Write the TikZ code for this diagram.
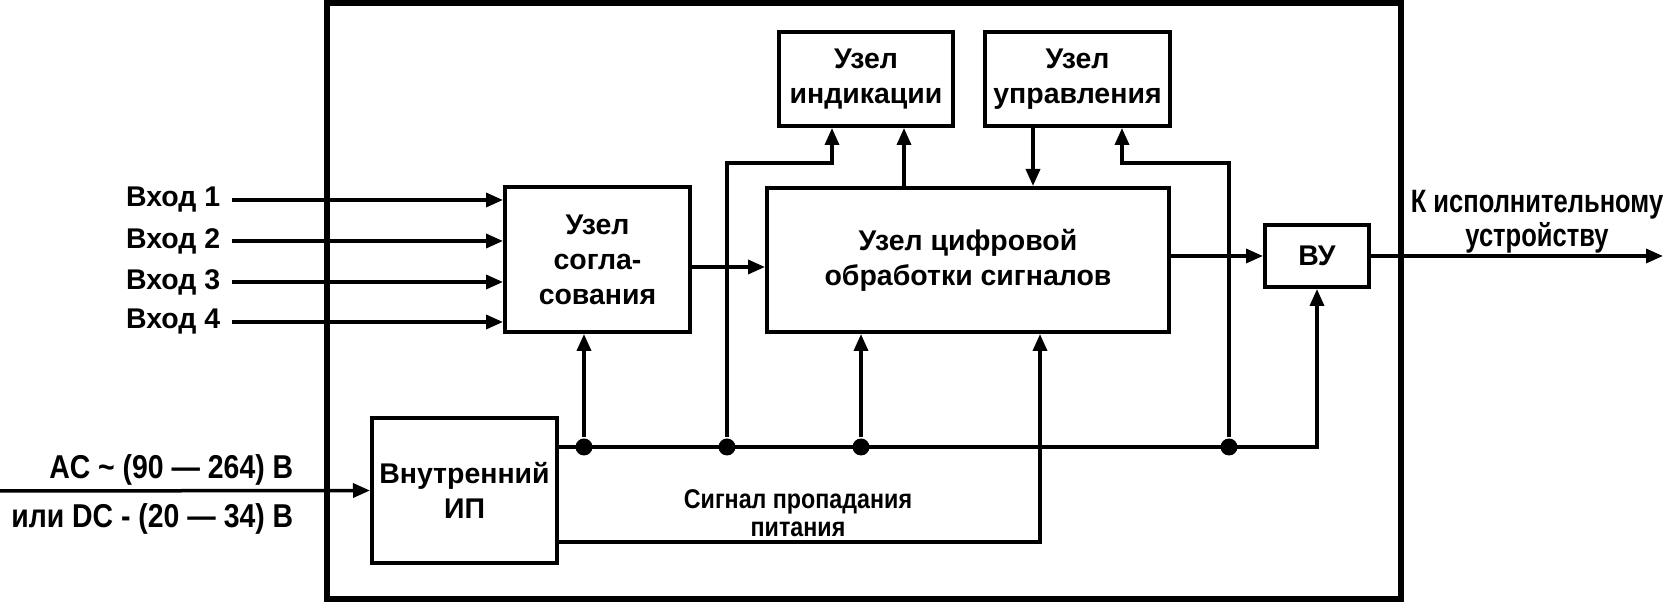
\documentclass[tikz,border=0pt]{standalone}
\usepackage{fontspec}
\setmainfont{Liberation Sans}
\newfontfamily\narrowfont{Liberation Sans}[FakeStretch=0.86]
\newfontfamily\slimfont{Liberation Sans}[FakeStretch=0.79]
\usetikzlibrary{arrows.meta,positioning}

\begin{document}
\begin{tikzpicture}[>={Triangle[length=0.17cm,width=0.14cm]},
                    font=\bfseries\fontsize{8.1}{10}\selectfont,
                    line width=0.035cm]
  \tikzstyle{blk}=[draw, line width=0.04cm, align=center, inner sep=0pt]
  \tikzstyle{lbl}=[inner sep=0pt, anchor=east]
  \tikzstyle{nlbl}=[inner sep=0pt, align=center,
                    font=\narrowfont\bfseries\fontsize{9.4}{10.2}\selectfont]
  \tikzstyle{dot}=[circle, fill, inner sep=0pt, minimum size=0.17cm]
  \useasboundingbox (0,0) rectangle (16.73,-6.04);

  % ================= корпус прибора =================
  \node[draw, line width=0.065cm, minimum width=10.74cm,
        minimum height=5.96cm] (dev) at (8.64,-3.01) {};

  % ================= блоки =================
  \node[blk, minimum width=1.85cm, minimum height=1.45cm] (sogl) at (5.975,-2.595)
       {Узел\\согла-\\сования};
  \node[blk, minimum width=4.02cm, minimum height=1.44cm] (dsp) at (9.68,-2.60)
       {Узел цифровой\\обработки сигналов};
  \node[blk, minimum width=1.74cm, minimum height=0.94cm] (ind) at (8.66,-0.79)
       {Узел\\индикации};
  \node[blk, minimum width=1.85cm, minimum height=0.94cm] (upr) at (10.775,-0.79)
       {Узел\\управления};
  \node[blk, minimum width=1.04cm, minimum height=0.62cm] (vu) at (13.17,-2.56) {ВУ};
  \node[blk, minimum width=1.85cm, minimum height=1.45cm] (ip) at (4.645,-4.905)
       {Внутренний\\ИП};

  % ================= входы =================
  \foreach \i/\y in {1/2.00,2/2.41,3/2.82,4/3.22}{
    \node[lbl] (in\i) at (2.22,-\y) {Вход \i};
    \draw[->] ([xshift=0.10cm]in\i.east) -- (sogl.west |- in\i.east);
  }
  \coordinate (s1) at ([yshift=-0.075cm]sogl.east);
  \draw[->] (s1) -- (s1 -| dsp.west);
  \draw[->] (dsp.east |- vu.west) -- (vu.west);

  % ================= выход =================
  \coordinate (out) at (16.63,-2.58);
  \draw[->] (vu.east) -- (vu.east -| out);
  \node[nlbl, font=\slimfont\bfseries\fontsize{9.2}{8.3}\selectfont]
       (outlbl) at (15.37,-2.22) {К исполнительному\\устройству};

  % ================= связи с индикацией и управлением =================
  \coordinate (d1) at ([xshift=-0.64cm]dsp.north);
  \draw[->] (d1) -- (d1 |- ind.south);
  \coordinate (u1) at ([xshift=-0.445cm]upr.south);
  \draw[->] (u1) -- (u1 |- dsp.north);

  % ================= питание =================
  \coordinate (pin) at (0,-4.91);
  \draw[->] (pin) -- (ip.west);
  \node[nlbl, anchor=east] (ac) at (2.95,-4.70) {AC \textasciitilde{} (90 — 264) В};
  \node[nlbl, anchor=east] (dc) at (2.95,-5.19) {или DC - (20 — 34) В};

  \coordinate (bus) at ([yshift=0.435cm]ip.east);
  \foreach \n/\x in {j1/5.84,j2/7.27,j3/8.61,j4/12.29}
    \node[dot] (\n) at (\x,-4.47) {};
  \draw[->] (bus) -| (vu.south);
  \draw[->] (j1) -- (j1 |- sogl.south);
  \draw[->] (j3) -- (j3 |- dsp.south);
  \coordinate (t1) at (8.32,-1.63);
  \draw[->] (j2) |- (t1) -- (t1 |- ind.south);
  \coordinate (t2) at (11.22,-1.63);
  \draw[->] (j4) |- (t2) -- (t2 |- upr.south);

  % ================= сигнал пропадания питания =================
  \coordinate (pf) at (10.40,-5.42);
  \draw[->] (ip.east |- pf) -- (pf) -- (pf |- dsp.south);
  \node[nlbl, font=\narrowfont\bfseries\fontsize{7.7}{7.9}\selectfont]
       (pflbl) at (7.98,-5.13) {Сигнал пропадания\\питания};
\end{tikzpicture}
\end{document}
